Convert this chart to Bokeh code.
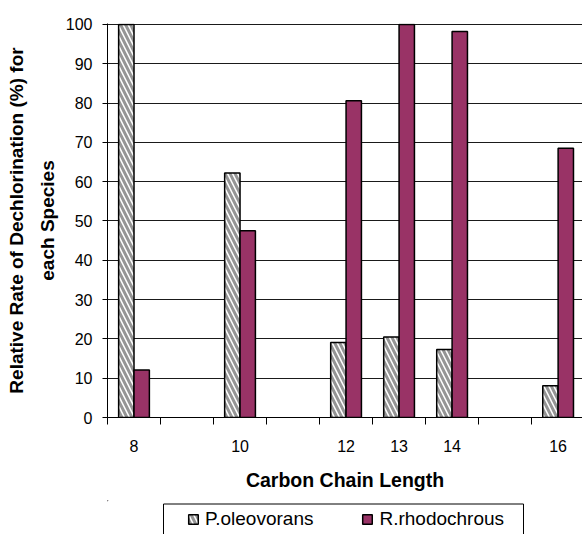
from bokeh.plotting import figure
from bokeh.layouts import column
from bokeh.models import Range1d, FixedTicker, Legend, LegendItem, ColumnDataSource
from bokeh.embed import file_html
from bokeh.resources import INLINE

# ---- data ----
chain_slots = [8, 9, 10, 11, 12, 13, 14, 15, 16]
slot_labels = ["8", "", "10", "", "12", "13", "14", "", "16"]
chain_measured = [8, 10, 12, 13, 14, 16]
p_oleovorans = [100, 62.2, 19.1, 20.5, 17.3, 8.1]
r_rhodochrous = [12.1, 47.5, 80.6, 100, 98.2, 68.5]
y_ticks = [0, 10, 20, 30, 40, 50, 60, 70, 80, 90, 100]

FONT = "Liberation Sans"

centers = [chain_slots.index(c) + 0.5 for c in chain_measured]
src = ColumnDataSource(dict(
    xp=[c - 0.145 for c in centers],
    xr=[c + 0.145 for c in centers],
    p=p_oleovorans,
    r=r_rhodochrous,
))

P_STYLE = dict(fill_color="white", line_color="black", line_width=1.5,
               hatch_pattern="\\", hatch_color="#959595", hatch_weight=3,
               hatch_scale=10)
R_STYLE = dict(fill_color="#993366", line_color="black", line_width=1.5)

p = figure(width=582, height=500, output_backend="svg", toolbar_location=None,
           x_range=Range1d(0, 8.96), y_range=Range1d(0, 100.25),
           min_border_left=107, min_border_right=0, min_border_top=23,
           min_border_bottom=83)
p.outline_line_color = None
p.background_fill_color = "white"
p.border_fill_color = "white"

p.vbar(x="xp", top="p", width=0.29, source=src, **P_STYLE)
p.vbar(x="xr", top="r", width=0.29, source=src, **R_STYLE)

# y axis
p.yaxis.ticker = FixedTicker(ticks=y_ticks)
p.yaxis.minor_tick_line_color = None
p.yaxis.major_tick_out = 5
p.yaxis.major_tick_in = 0
p.yaxis.axis_line_color = "black"
p.yaxis.major_label_text_font = FONT
p.yaxis.major_label_text_font_size = "16px"
p.yaxis.major_label_text_color = "black"
p.yaxis.major_label_standoff = 10
p.yaxis.axis_label = "Relative Rate of Dechlorination (%) for\neach Species"
p.yaxis.axis_label_text_font = FONT
p.yaxis.axis_label_text_font_style = "bold"
p.yaxis.axis_label_text_font_size = "19px"
p.yaxis.axis_label_text_line_height = 1.45
p.yaxis.axis_label_text_color = "black"
p.yaxis.axis_label_standoff = 5

# x axis
centers_all = [i + 0.5 for i in range(len(chain_slots))]
bounds = [float(i) for i in range(len(chain_slots))]
p.xaxis.ticker = FixedTicker(ticks=centers_all, minor_ticks=bounds)
p.xaxis.major_label_overrides = {c: lab for c, lab in zip(centers_all, slot_labels)}
p.xaxis.major_tick_out = 0
p.xaxis.major_tick_in = 0
p.xaxis.minor_tick_out = 7
p.xaxis.minor_tick_in = 0
p.xaxis.minor_tick_line_color = "black"
p.xaxis.axis_line_color = "black"
p.xaxis.major_label_text_font = FONT
p.xaxis.major_label_text_font_size = "16px"
p.xaxis.major_label_text_color = "black"
p.xaxis.major_label_standoff = 15
p.xaxis.axis_label = "Carbon Chain Length"
p.xaxis.axis_label_text_font = FONT
p.xaxis.axis_label_text_font_style = "bold"
p.xaxis.axis_label_text_font_size = "19.5px"
p.xaxis.axis_label_text_color = "black"
p.xaxis.axis_label_standoff = 14

p.xgrid.grid_line_color = None
p.ygrid.ticker = FixedTicker(ticks=y_ticks)
p.ygrid.grid_line_color = "#1a1a1a"
p.ygrid.grid_line_width = 1

# legend strip below the chart (frame aligned with the chart frame: x 107..582)
lg = figure(width=582, height=34, output_backend="svg", toolbar_location=None,
            x_range=Range1d(107, 582), y_range=Range1d(534, 500),
            x_axis_type=None, y_axis_type=None,
            min_border=0)
lg.outline_line_color = None
lg.grid.grid_line_color = None
lg.border_fill_color = "white"
lg.background_fill_color = "white"
# legend frame (bottom edge cut off by the page edge, as in the reference)
lg.quad(left=[163], right=[523], top=[503.5], bottom=[545],
        fill_color=None, line_color="black", line_width=1)
# off-screen proxy glyphs, used only to draw the legend swatches
proxy = ColumnDataSource(dict(x=[-100000.0], top=[-100000.0], bottom=[-100001.0]))
lp = lg.vbar(x="x", top="top", bottom="bottom", width=0.29, source=proxy, **P_STYLE)
lr = lg.vbar(x="x", top="top", bottom="bottom", width=0.29, source=proxy, **R_STYLE)

legend = Legend(items=[LegendItem(label="P.oleovorans", renderers=[lp]),
                       LegendItem(label="R.rhodochrous", renderers=[lr])],
                orientation="horizontal", location=(80, 4))
legend.label_text_font = FONT
legend.label_text_font_size = "19px"
legend.label_text_color = "black"
legend.glyph_width = 12
legend.glyph_height = 12
legend.label_standoff = 6
legend.label_width = 108
legend.spacing = 48
legend.padding = 0
legend.margin = 0
legend.border_line_color = None
legend.background_fill_alpha = 0
legend.label_height = 20
lg.add_layout(legend, "center")

layout = column(p, lg, spacing=0)
open("out.html", "w").write(file_html(layout, INLINE))
